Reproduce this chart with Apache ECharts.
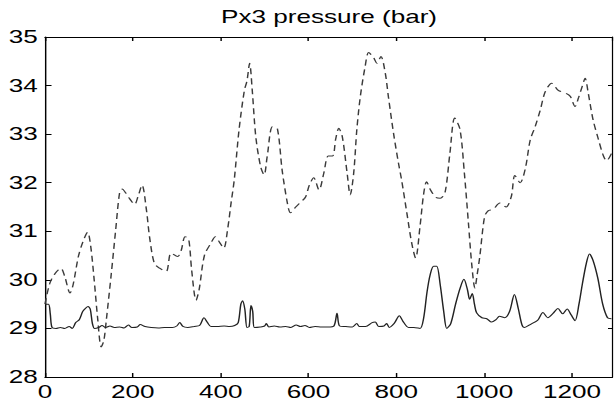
<!DOCTYPE html>
<html>
<head>
<meta charset="utf-8">
<script src="https://cdn.jsdelivr.net/npm/echarts@6/dist/echarts.min.js"></script>
<style>
  html, body { margin: 0; padding: 0; background: #fff; overflow: hidden; width: 614px; height: 401px; }
  #chart { width: 423.45px; height: 401px; transform: scaleX(1.45); transform-origin: 0 0; }
</style>
</head>
<body>
<div id="chart"></div>
<script>
// ---- data ----
const titleText = 'Px3 pressure (bar)';
const xTicks = [0, 200, 400, 600, 800, 1000, 1200];
const yTicks = [28, 29, 30, 31, 32, 33, 34, 35];

const dashedX = [0, 11, 23, 36, 45, 57, 64, 76, 87, 97, 104, 112, 120, 128, 134, 140, 151, 161, 170, 176, 183, 192, 197, 204, 212, 221, 231, 238, 249, 261, 276, 287, 302, 310, 319, 327, 334, 344, 351, 363, 378, 388, 397, 407, 416, 424, 431, 442, 454, 460, 466, 472, 480, 491, 499, 506, 518, 529, 540, 552, 559, 571, 582, 593, 602, 612, 624, 635, 645, 655, 662, 669, 677, 688, 695, 703, 710, 718, 729, 737, 748, 756, 765, 775, 782, 794, 805, 812, 824, 835, 844, 854, 862, 869, 878, 890, 900, 911, 922, 933, 945, 955, 964, 972, 979, 984, 990, 1001, 1009, 1020, 1036, 1050, 1062, 1070, 1082, 1094, 1105, 1116, 1128, 1139, 1154, 1169, 1184, 1196, 1207, 1215, 1224, 1230, 1237, 1248, 1260, 1271, 1279, 1290];
const dashedY = [29.5, 29.93, 30.13, 30.24, 30.07, 29.73, 29.9, 30.48, 30.8, 30.98, 30.7, 30.0, 29.2, 28.62, 28.75, 29.2, 30.13, 31.03, 31.8, 31.87, 31.8, 31.68, 31.62, 31.55, 31.72, 31.95, 31.44, 30.89, 30.34, 30.24, 30.17, 30.55, 30.48, 30.6, 30.89, 30.85, 30.2, 29.58, 29.8, 30.5, 30.76, 30.89, 30.78, 30.65, 31.05, 31.6, 32.06, 33.1, 33.9, 34.1, 34.46, 33.9, 32.95, 32.33, 32.16, 32.54, 33.15, 33.12, 32.26, 31.58, 31.38, 31.5, 31.6, 31.7, 31.95, 32.1, 31.85, 32.2, 32.55, 32.55, 32.9, 33.12, 32.95, 32.2, 31.75, 32.2, 33.08, 33.77, 34.39, 34.68, 34.58, 34.46, 34.6, 34.25, 33.77, 33.0, 32.4, 32.06, 31.38, 30.76, 30.45, 31.1, 31.75, 32.02, 31.85, 31.7, 31.68, 31.8, 32.6, 33.33, 33.1, 32.2, 31.2, 30.3, 29.83, 30.1, 30.47, 31.3, 31.42, 31.45, 31.58, 31.5, 31.72, 32.15, 32.0, 32.3, 32.88, 33.15, 33.5, 33.87, 34.05, 33.9, 33.85, 33.78, 33.57, 33.75, 34.0, 34.15, 33.85, 33.3, 32.9, 32.57, 32.45, 32.6];

const solidX = [0, 8, 12, 16, 25, 35, 45, 55, 62, 70, 78, 86, 93, 98, 103, 108, 113, 122, 130, 138, 148, 158, 170, 180, 190, 198, 210, 217, 228, 242, 258, 272, 290, 300, 307, 314, 325, 340, 352, 362, 370, 378, 392, 408, 420, 432, 440, 446, 450, 455, 460, 465, 469, 473, 477, 490, 500, 504, 510, 522, 535, 548, 560, 572, 582, 592, 602, 615, 630, 645, 658, 665, 671, 685, 700, 710, 716, 730, 745, 752, 760, 772, 778, 784, 795, 807, 815, 828, 840, 854, 862, 870, 877, 885, 892, 900, 908, 915, 924, 935, 945, 954, 962, 967, 973, 978, 983, 995, 1006, 1017, 1027, 1035, 1047, 1058, 1069, 1078, 1086, 1092, 1105, 1122, 1134, 1145, 1158, 1168, 1179, 1189, 1198, 1207, 1216, 1224, 1233, 1240, 1248, 1259, 1270, 1281, 1290];
const solidY = [29.5, 29.5, 29.3, 29.02, 29.0, 29.02, 29.0, 29.04, 29.0, 29.12, 29.18, 29.35, 29.42, 29.45, 29.4, 29.1, 29.0, 29.02, 29.06, 29.02, 29.05, 29.02, 29.03, 29.01, 29.07, 29.02, 29.03, 29.08, 29.04, 29.02, 29.01, 29.02, 29.02, 29.05, 29.12, 29.04, 29.02, 29.04, 29.06, 29.22, 29.12, 29.04, 29.04, 29.05, 29.04, 29.06, 29.12, 29.5, 29.57, 29.4, 29.02, 29.04, 29.47, 29.35, 29.02, 29.03, 29.05, 29.1, 29.03, 29.05, 29.03, 29.04, 29.02, 29.07, 29.04, 29.06, 29.02, 29.04, 29.03, 29.03, 29.05, 29.31, 29.05, 29.04, 29.03, 29.1, 29.04, 29.04, 29.12, 29.13, 29.04, 29.05, 29.1, 29.02, 29.1, 29.26, 29.15, 29.02, 29.02, 29.0, 29.2, 29.75, 30.1, 30.28, 30.28, 29.9, 29.35, 29.0, 29.1, 29.5, 29.82, 30.01, 29.8, 29.6, 29.72, 29.5, 29.32, 29.22, 29.2, 29.13, 29.18, 29.25, 29.22, 29.35, 29.7, 29.4, 29.08, 29.02, 29.08, 29.17, 29.33, 29.22, 29.32, 29.41, 29.3, 29.4, 29.28, 29.16, 29.5, 29.93, 30.35, 30.53, 30.4, 30.03, 29.5, 29.22, 29.2];

// ---- chart ----
const xMin = xTicks[0], xMax = 1292, xStep = xTicks[1] - xTicks[0];
const yMin = yTicks[0], yMax = yTicks[yTicks.length - 1], yStep = yTicks[1] - yTicks[0];
const pair = (xs, ys) => xs.map((x, i) => [x, ys[i]]);
const plain = v => String(v);

const FONT = '"Liberation Sans", Arial, sans-serif';
const axisBase = {
  type: 'value',
  splitLine: { show: false },
  axisLine: { show: true, onZero: false, lineStyle: { color: '#000', width: 1 } },
  axisTick: { show: true, inside: true, length: 4, lineStyle: { color: '#000', width: 1 } },
};

const chart = echarts.init(document.getElementById('chart'), null, { renderer: 'svg' });
chart.setOption({
  animation: false,
  backgroundColor: '#fff',
  title: {
    text: titleText,
    left: 226.9,
    textAlign: 'center',
    top: 8,
    padding: 0,
    textStyle: { fontFamily: FONT, fontSize: 18, fontWeight: 'normal', color: '#000' }
  },
  grid: { left: 31.03, right: 0.69, top: 37, bottom: 24, containLabel: false },
  xAxis: [
    Object.assign({}, axisBase, {
      position: 'bottom', min: xMin, max: xMax, interval: xStep,
      axisLabel: { show: true, margin: 6, showMaxLabel: false, formatter: plain, color: '#000', fontFamily: FONT, fontSize: 18 }
    }),
    Object.assign({}, axisBase, {
      position: 'top', min: xMin, max: xMax, interval: xStep,
      axisLabel: { show: false }
    })
  ],
  yAxis: [
    Object.assign({}, axisBase, {
      position: 'left', min: yMin, max: yMax, interval: yStep,
      axisTick: { show: true, inside: true, length: 4.5, lineStyle: { color: '#000', width: 1 } },
      axisLabel: { show: true, margin: 5, formatter: plain, color: '#000', fontFamily: FONT, fontSize: 18 }
    }),
    Object.assign({}, axisBase, {
      position: 'right', min: yMin, max: yMax, interval: yStep,
      axisTick: { show: true, inside: true, length: 3, lineStyle: { color: '#000', width: 1 } },
      axisLabel: { show: false }
    })
  ],
  series: [
    {
      type: 'line', xAxisIndex: 0, yAxisIndex: 0,
      data: pair(dashedX, dashedY),
      showSymbol: false, smooth: 0.3,
      lineStyle: { color: '#3a3a3a', width: 1, type: [6, 4] }
    },
    {
      type: 'line', xAxisIndex: 0, yAxisIndex: 0,
      data: pair(solidX, solidY),
      showSymbol: false, smooth: 0.3,
      lineStyle: { color: '#222', width: 1, type: 'solid' }
    }
  ]
});
</script>
</body>
</html>
